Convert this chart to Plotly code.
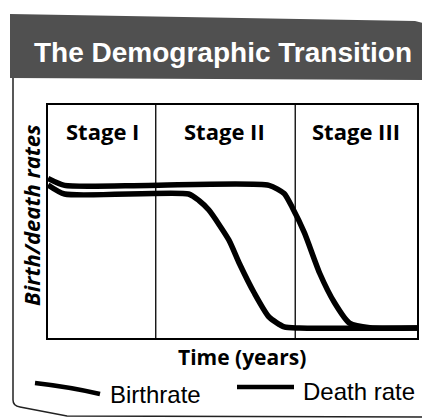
import plotly.graph_objects as go

# Data (x = time share 0..100, y = relative rate 0..100)
birth_x = [0, 4.5, 27.2, 59.9, 64.0, 66.2, 69.5, 73.6, 77.7, 81.7, 87.2, 100]
birth_y = [68.5, 65.5, 65.5, 65.5, 62.0, 56.0, 45.1, 27.9, 15.0, 6.4, 4.4, 4.3]
death_x = [0, 4.5, 38.1, 40.9, 43.6, 49.0, 51.8, 55.9, 59.9, 64.0, 68.1, 100]
death_y = [65.7, 61.8, 61.8, 59.0, 54.9, 42.1, 32.2, 19.3, 9.0, 4.8, 4.3, 4.3]
stage_bounds = [29.2, 67.0]
stage_labels = ["Stage I", "Stage II", "Stage III"]
stage_centers = [14.9, 47.7, 83.5]
series_names = ["Birthrate", "Death rate"]

# page has an 8px body margin; work in reference pixel coords and shift
OFF = 8
W, H = 422, 410
X0, X1, Y0, Y1 = 48, 417, 105, 338          # plot box in reference pixels
L, R, T, B = X0 - OFF, W - (X1 - OFF), Y0 - OFF, H - (Y1 - OFF)
PW, PH = W - L - R, H - T - B

def px(x):
    return (x - OFF - L) / PW
def py(y):
    return (H - B - (y - OFF)) / PH

fig = go.Figure()
for xs, ys, nm in [(birth_x, birth_y, series_names[0]), (death_x, death_y, series_names[1])]:
    fig.add_trace(go.Scatter(x=xs, y=ys, mode="lines", name=nm,
                             line=dict(color="black", width=5.5, shape="spline", smoothing=0.6),
                             showlegend=False, cliponaxis=True))

shapes = []
for xb in stage_bounds:
    shapes.append(dict(type="line", xref="x", yref="paper", x0=xb, x1=xb, y0=0, y1=1,
                       line=dict(color="black", width=1.3)))

# Banner
shapes.append(dict(type="path", xref="paper", yref="paper",
                   path=(f"M {px(10)},{py(14)} L {px(415)},{py(21)} L {px(430)},{py(25)} "
                         f"L {px(430)},{py(80)} L {px(10)},{py(78)} Z"),
                   fillcolor="#505050", line=dict(width=0), layer="below"))
# Outer frame
shapes.append(dict(type="path", xref="paper", yref="paper",
                   path=(f"M {px(13)},{py(78)} L {px(13)},{py(400)} Q {px(13)},{py(406)} {px(20)},{py(407)} "
                         f"L {px(67)},{py(416)} L {px(430)},{py(417)}"),
                   line=dict(color="#222", width=1.5)))
# Legend samples
shapes.append(dict(type="path", xref="paper", yref="paper",
                   path=f"M {px(35)},{py(383)} Q {px(70)},{py(387)} {px(100)},{py(394)}",
                   line=dict(color="black", width=4.5)))
shapes.append(dict(type="line", xref="paper", yref="paper", x0=px(237), x1=px(294),
                   y0=py(387), y1=py(387), line=dict(color="black", width=4.5)))

annotations = []
annotations.append(dict(text="The Demographic Transition", xref="paper", yref="paper",
                        x=px(223), y=py(53), xanchor="center", yanchor="middle", showarrow=False,
                        font=dict(family="Liberation Sans", size=28, color="white", weight="bold")))
for lab, cx in zip(stage_labels, stage_centers):
    annotations.append(dict(text=lab, xref="x", yref="paper", x=cx, y=py(131),
                            xanchor="center", yanchor="middle", showarrow=False,
                            font=dict(family="Open Sans", size=22, color="black", weight="bold")))
annotations.append(dict(text="<i>Birth/death rates</i>", xref="paper", yref="paper",
                        x=px(31), y=py(216), xanchor="center", yanchor="middle", showarrow=False,
                        textangle=-90,
                        font=dict(family="Open Sans", size=22, color="black", weight="bold")))
annotations.append(dict(text="Time (years)", xref="paper", yref="paper",
                        x=px(242), y=py(357), xanchor="center", yanchor="middle", showarrow=False,
                        font=dict(family="Open Sans", size=21, color="black", weight="bold")))
annotations.append(dict(text=series_names[0], xref="paper", yref="paper",
                        x=px(108), y=py(394), xanchor="left", yanchor="middle", showarrow=False,
                        font=dict(family="Liberation Sans", size=24, color="black")))
annotations.append(dict(text=series_names[1], xref="paper", yref="paper",
                        x=px(301), y=py(391), xanchor="left", yanchor="middle", showarrow=False,
                        font=dict(family="Liberation Sans", size=24, color="black")))

fig.update_layout(
    width=W, height=H,
    margin=dict(l=L, r=R, t=T, b=B),
    paper_bgcolor="white", plot_bgcolor="white",
    shapes=shapes, annotations=annotations,
    xaxis=dict(range=[0, 100], showgrid=False, zeroline=False, showticklabels=False,
               ticks="", showline=True, linecolor="black", linewidth=2, mirror=True),
    yaxis=dict(range=[0, 100], showgrid=False, zeroline=False, showticklabels=False,
               ticks="", showline=True, linecolor="black", linewidth=2, mirror=True),
)

fig.write_html("out.html")
